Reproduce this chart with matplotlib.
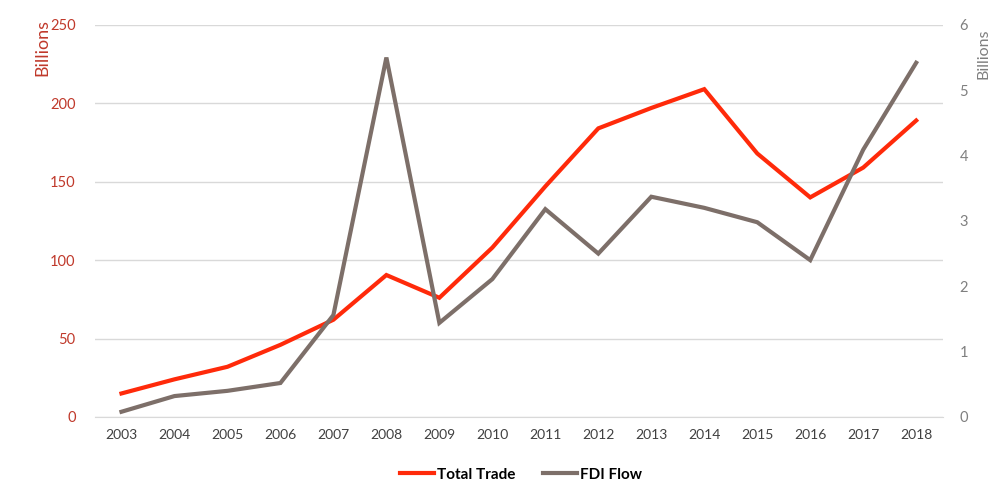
import matplotlib
matplotlib.use("Agg")
import matplotlib.pyplot as plt

# values
years = list(range(2003, 2019))
total_trade = [15, 24, 32, 46, 62, 90.5, 76, 108, 147, 184, 197, 209, 168, 140, 159, 189]
fdi_flow = [0.08, 0.32, 0.40, 0.52, 1.56, 5.50, 1.44, 2.11, 3.18, 2.50, 3.37, 3.20, 2.98, 2.40, 4.09, 5.42]
left_ticks = [0, 50, 100, 150, 200, 250]
right_ticks = [0, 1, 2, 3, 4, 5, 6]

plt.rcParams['font.family'] = ['Lato', 'DejaVu Sans']

red = '#ff2a0a'
brown = '#7d6f69'
grid_col = '#d9d9d9'

fig = plt.figure(figsize=(10.02, 4.97), dpi=100)
ax = fig.add_axes([0.0948, 0.161, 0.846, 0.789])
ax2 = ax.twinx()

ax.plot(years, total_trade, color=red, lw=3, label='Total Trade', zorder=3, solid_joinstyle='miter')
ax2.plot(years, fdi_flow, color=brown, lw=3, label='FDI Flow', zorder=2, solid_joinstyle='miter')

ax.set_xlim(2002.5, 2018.5)
ax.set_ylim(0, 250)
ax2.set_ylim(0, 6)
ax.set_yticks(left_ticks)
ax2.set_yticks(right_ticks)
ax.set_xticks(years)
ax.set_xticklabels([str(y) for y in years])

ax.grid(axis='y', color=grid_col, lw=1)
ax.set_axisbelow(True)
for a in (ax, ax2):
    for s in a.spines.values():
        s.set_visible(False)
ax.spines['bottom'].set_visible(True)
ax.spines['bottom'].set_color(grid_col)

ax.tick_params(axis='x', length=0, pad=9, labelsize=10, labelcolor='#404040')
ax.tick_params(axis='y', length=0, pad=14, labelsize=10.5, labelcolor='#c0392b')
ax2.tick_params(axis='y', length=0, pad=12, labelsize=10.5, labelcolor='#7f7f7f')

fig.text(0.042, 0.962, 'Billions', rotation=90, ha='center', va='top', color='#c0392b', fontsize=13)
fig.text(0.982, 0.942, 'Billions', rotation=90, ha='center', va='top', color='#7f7f7f', fontsize=11.5)

h1, l1 = ax.get_legend_handles_labels()
h2, l2 = ax2.get_legend_handles_labels()
fig.legend(h1 + h2, l1 + l2, loc='center', bbox_to_anchor=(0.52, 0.045), ncol=2, frameon=False,
           prop={'weight': 'bold', 'size': 11}, handlelength=2.2, handletextpad=0.2, columnspacing=1.8)

fig.savefig('out.png', dpi=100)
